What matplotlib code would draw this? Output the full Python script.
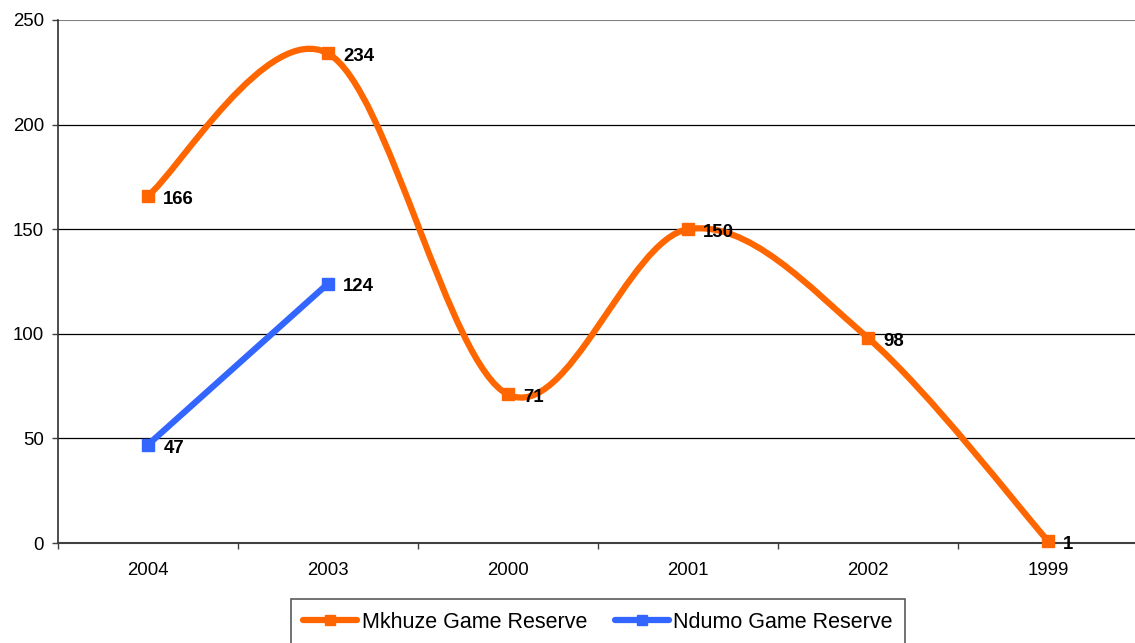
import matplotlib.pyplot as plt
from matplotlib.path import Path
from matplotlib.patches import PathPatch
from matplotlib.lines import Line2D

years = ["2004", "2003", "2000", "2001", "2002", "1999"]
mkhuze = [166, 234, 71, 150, 98, 1]
ndumo = [47, 124]

ORANGE = "#FF6600"
BLUE = "#3366FF"


def smooth_path(xs, ys):
    # Excel-style smoothed line: Catmull-Rom converted to cubic Bezier segments
    pts = list(zip(xs, ys))
    n = len(pts)
    verts = [pts[0]]
    codes = [Path.MOVETO]
    for i in range(n - 1):
        p0 = pts[max(i - 1, 0)]
        p1 = pts[i]
        p2 = pts[i + 1]
        p3 = pts[min(i + 2, n - 1)]
        c1 = (p1[0] + (p2[0] - p0[0]) / 6, p1[1] + (p2[1] - p0[1]) / 6)
        c2 = (p2[0] - (p3[0] - p1[0]) / 6, p2[1] - (p3[1] - p1[1]) / 6)
        verts += [c1, c2, p2]
        codes += [Path.CURVE4] * 3
    return Path(verts, codes)


plt.rcParams["font.family"] = ["Liberation Sans", "DejaVu Sans"]

fig = plt.figure(figsize=(11.35, 6.43), dpi=100)
ax = fig.add_axes([58 / 1135, 1 - 543 / 643, 1080 / 1135, 523 / 643])

x_m = list(range(len(mkhuze)))
x_n = list(range(len(ndumo)))

ax.add_patch(PathPatch(smooth_path(x_m, mkhuze), facecolor="none",
                       edgecolor=ORANGE, lw=4.5, capstyle="round", zorder=3))
ax.plot(x_m, mkhuze, "s", color=ORANGE, ms=8.5, zorder=4, clip_on=False)
ax.plot(x_n, ndumo, "-s", color=BLUE, lw=4.5, ms=8.5, zorder=4,
        solid_capstyle="round")

for x, v in zip(x_m, mkhuze):
    ax.annotate(str(v), (x, v), xytext=(11, -1), textcoords="offset points",
                ha="left", va="center_baseline", fontsize=13.4, fontweight="bold", zorder=5)
for x, v in zip(x_n, ndumo):
    ax.annotate(str(v), (x, v), xytext=(11, -1), textcoords="offset points",
                ha="left", va="center_baseline", fontsize=13.4, fontweight="bold", zorder=5)

ax.set_xlim(-0.5, len(years) - 0.5)
ax.set_ylim(0, 250)
ax.set_yticks(range(0, 251, 50))
ax.set_xticks(range(len(years)))
ax.set_xticklabels(years)
ax.set_xticks([i + 0.5 for i in range(-1, len(years) - 1)], minor=True)
ax.tick_params(axis="x", which="major", length=0, pad=14, labelsize=13.4)
ax.tick_params(axis="x", which="minor", length=4, width=1, color="#404040", direction="out")
ax.tick_params(axis="y", length=4, width=1, color="#404040", pad=6, labelsize=13.4)

for y in range(50, 250, 50):
    ax.axhline(y, color="black", lw=0.9, zorder=1)
ax.axhline(250, color="#808080", lw=1.5, zorder=1)

ax.spines["top"].set_visible(False)
ax.spines["right"].set_visible(False)
ax.spines["left"].set_color("#303030")
ax.spines["left"].set_linewidth(1.2)
ax.spines["bottom"].set_color("#404040")
ax.spines["bottom"].set_linewidth(1.5)

handles = [
    Line2D([], [], color=ORANGE, lw=4.5, marker="s", ms=7, solid_capstyle="round"),
    Line2D([], [], color=BLUE, lw=4.5, marker="s", ms=7, solid_capstyle="round"),
]
leg = fig.legend(handles, ["Mkhuze Game Reserve", "Ndumo Game Reserve"],
                 loc="upper center", bbox_to_anchor=(598 / 1135, 1 - 599 / 643),
                 ncol=2, fontsize=15.5, frameon=True, fancybox=False,
                 handlelength=2.5, handletextpad=0.2, columnspacing=1.3,
                 borderpad=0.6, borderaxespad=0)
leg.get_frame().set_edgecolor("#303030")
leg.get_frame().set_linewidth(1.2)

fig.savefig("out.png", dpi=100)
